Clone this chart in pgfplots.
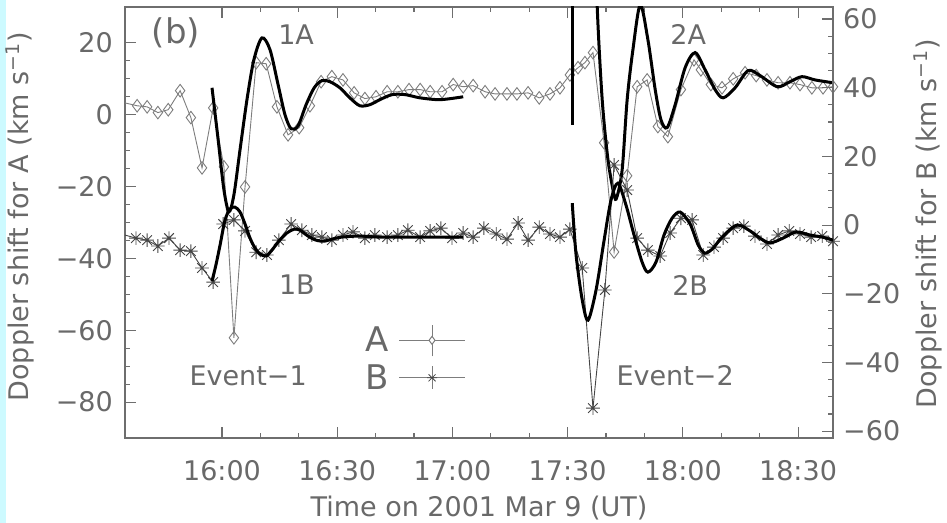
\documentclass[border=0pt]{standalone}
\usepackage{fontspec}
\setmainfont{DejaVu Sans}
\usepackage{pgfplots}
\pgfplotsset{compat=1.18}

\definecolor{txt}{RGB}{105,105,105}
\definecolor{axc}{RGB}{110,110,110}
\definecolor{dA}{RGB}{125,125,125}
\definecolor{dB}{RGB}{70,70,70}
\definecolor{strip}{RGB}{205,250,255}

\newcommand{\fs}[1]{\fontsize{#1bp}{#1bp}\selectfont}

\pgfdeclareplotmark{ast8}{%
 \pgfpathmoveto{\pgfqpoint{-\pgfplotmarksize}{0pt}}\pgfpathlineto{\pgfqpoint{\pgfplotmarksize}{0pt}}%
 \pgfpathmoveto{\pgfqpoint{0pt}{-\pgfplotmarksize}}\pgfpathlineto{\pgfqpoint{0pt}{\pgfplotmarksize}}%
 \pgfpathmoveto{\pgfqpoint{-.707\pgfplotmarksize}{-.707\pgfplotmarksize}}\pgfpathlineto{\pgfqpoint{.707\pgfplotmarksize}{.707\pgfplotmarksize}}%
 \pgfpathmoveto{\pgfqpoint{-.707\pgfplotmarksize}{.707\pgfplotmarksize}}\pgfpathlineto{\pgfqpoint{.707\pgfplotmarksize}{-.707\pgfplotmarksize}}%
 \pgfusepathqstroke}

% time in minutes after 15:00 UT
\pgfplotstableread{
t A
34.7 3.3
37.9 2.5
40.5 2.2
43.3 0.6
46.0 1.4
49.1 6.7
51.9 -0.8
54.8 -14.8
57.7 1.9
60.5 -14.5
63.1 -62.1
66.0 -20.1
68.9 14.5
71.5 14.2
74.3 2.2
77.2 -5.6
80.1 -3.6
82.9 2.5
85.8 9.2
88.6 10.6
91.5 9.7
94.4 6.1
97.2 4.5
100.1 5.0
103.0 6.4
105.8 6.4
108.7 7.0
111.6 7.0
114.2 6.4
117.3 6.4
120.2 8.4
122.8 7.8
125.4 8.1
128.5 6.4
131.1 5.8
134.2 5.8
136.8 5.8
139.7 6.1
142.6 4.7
145.4 5.8
148.0 7.5
150.6 11.1
152.7 13.1
154.5 14.5
156.6 17.3
159.5 -7.8
162.1 -38.2
165.5 -17.0
168.1 7.8
170.7 9.7
173.5 -3.3
176.1 -6.1
179.5 7.0
182.9 15.3
184.7 12.5
187.3 8.4
190.2 7.5
193.1 10.0
196.2 11.7
199.1 10.9
201.9 9.7
204.8 8.9
207.9 8.9
210.5 8.4
213.6 7.5
216.5 7.5
219.1 7.8
}\dataA

\pgfplotstableread{
t B
34.7 -2.9
37.6 -3.8
40.5 -4.4
43.3 -6.1
46.2 -3.8
49.1 -7.3
51.9 -7.6
54.8 -12.5
57.7 -16.6
60.3 0.3
63.1 1.5
66.0 -1.7
68.9 -7.9
71.7 -8.7
74.8 -4.4
78.0 0.3
80.8 -1.5
83.4 -2.9
86.0 -3.5
88.6 -4.4
91.5 -2.9
94.1 -2.0
97.2 -3.8
99.8 -2.9
103.0 -3.5
105.8 -2.9
108.4 -1.5
111.6 -3.5
114.2 -1.7
117.0 -0.9
119.9 -3.8
122.8 -2.3
125.4 -3.5
128.2 -0.9
131.4 -2.6
134.2 -4.1
137.1 0.6
139.7 -4.4
142.6 -0.6
145.4 -2.6
148.0 -3.5
150.6 -1.2
153.8 -12.5
156.6 -53.3
159.7 -18.9
162.1 17.5
165.5 10.2
168.1 -3.8
170.9 -7.3
174.1 -9.0
176.7 -2.3
179.5 2.0
182.4 1.5
185.3 -8.7
188.1 -6.4
190.5 -3.8
193.1 -0.9
195.9 -0.3
198.8 -3.2
201.9 -5.5
204.8 -2.9
207.7 -1.7
210.5 -2.6
213.4 -3.5
216.3 -3.2
219.1 -4.7
}\dataB

\pgfplotstableread{
t A
57.4 7.5
59.0 -7.0
60.5 -20.9
61.8 -27.0
63.1 -22.3
64.7 -9.7
66.5 4.2
68.3 15.3
70.4 21.4
72.5 18.1
74.6 8.4
76.4 0.0
78.0 -3.9
79.8 -3.1
81.9 2.8
84.0 7.5
86.0 9.5
88.1 9.2
90.7 7.5
93.3 4.7
95.9 2.5
98.5 2.8
101.1 4.2
104.3 5.6
107.7 5.6
111.6 4.7
116.8 4.2
122.8 5.0
}\fitOneA

\pgfplotstableread{
t B
57.4 -16.3
58.4 -11.7
59.5 -5.8
60.8 1.5
62.1 4.7
63.4 5.2
64.7 3.8
66.0 0.3
67.3 -3.8
68.6 -6.7
69.9 -8.4
71.5 -9.0
73.0 -7.3
74.8 -4.7
76.9 -2.3
78.8 -1.2
80.3 -1.5
82.4 -3.2
84.5 -4.4
86.6 -4.7
88.6 -4.1
91.2 -3.5
95.9 -3.2
101.1 -3.5
111.6 -3.5
122.8 -3.5
}\fitOneB

\pgfplotstableread{
t A
156.5 70
157.7 30.1
159.0 4.2
160.5 -12.5
162.1 -22.3
162.8 -23.0
164.2 -15.3
165.5 4.2
167.0 18.1
168.9 30.6
170.9 20.9
172.8 7.0
174.3 -1.4
175.9 -3.6
178.0 2.8
180.6 13.1
183.2 17.3
185.8 12.5
188.4 7.0
190.5 4.7
193.6 7.5
197.0 12.3
200.1 10.9
204.6 7.8
207.9 9.2
211.0 10.6
214.4 9.7
219.1 8.9
}\fitTwoA

\pgfplotstableread{
t B
151.2 6.4
152.2 -8.7
153.8 -21.8
155.3 -27.7
157.4 -18.9
159.5 -4.4
161.3 7.3
163.1 12.2
165.2 5.8
167.3 -2.9
169.4 -10.8
170.9 -13.7
173.0 -10.8
175.1 -2.9
177.2 2.0
179.3 3.8
181.9 0.3
184.0 -5.8
185.8 -8.2
187.9 -6.7
190.2 -3.5
194.1 0.0
197.5 -1.7
200.1 -3.8
202.7 -5.2
206.1 -3.8
209.5 -2.0
213.1 -2.9
216.3 -3.5
219.1 -4.4
}\fitTwoB

\pgfplotsset{
 mystyle/.style={
  scale only axis, width=708bp, height=431bp,
  xmin=34.74, xmax=219.1,
  axis line style={axc, line width=1.3bp},
  every tick/.style={axc, line width=1.1bp},
  tick align=inside,
  major tick length=11bp, minor tick length=5.5bp,
  tick label style={font=\fs{27}, text=txt, inner sep=0pt},
  label style={font=\fs{27}, text=txt},
  clip mode=individual,
 },
 dataAstyle/.style={dA, line width=0.9bp, mark=diamond, mark size=6.3bp,
   mark options={fill=white, solid, line width=0.9bp, dA}},
 dataBstyle/.style={dB, line width=0.9bp, mark=ast8, mark size=6.8bp,
   mark options={solid, line width=0.9bp, dB}},
 fitstyle/.style={black, line width=3bp, smooth, no markers},
}

\begin{document}
\begin{tikzpicture}
\useasboundingbox (-125bp,-85bp) rectangle (822bp,438bp);
\fill[strip] (-125bp,-85bp) rectangle (-119bp,438bp);

\begin{axis}[mystyle,
  ymin=-90, ymax=30,
  ytick={-80,-60,-40,-20,0,20},
  yticklabels={−80,−60,−40,−20,0,20},
  minor y tick num=3,
  ytick pos=left,
  xtick={60,90,120,150,180,210},
  xticklabels={16:00,16:30,17:00,17:30,18:00,18:30},
  minor x tick num=2,
  yticklabel style={anchor=east, xshift=-12bp},
  xticklabel style={anchor=north, yshift=-22bp},
  xlabel={Time on 2001 Mar 9 (UT)},
  xlabel style={at={([yshift=-70bp]axis description cs:0.5,0)}, anchor=center},
  ylabel={Doppler shift for A (km s\textsuperscript{−1})},
  ylabel style={at={([xshift=-105bp]axis description cs:0,0.513)}, anchor=center},
  legend plot pos=right,
  legend style={draw=none, fill=none, at={(axis description cs:0.339,0.299)},
    anchor=north west, inner sep=0pt, row sep=-10bp, column sep=10bp,
    nodes={inner sep=0pt, text=txt, font=\fs{34}}},
]
\addplot[dataAstyle, forget plot] table[x=t, y=A] {\dataA};
\addplot[fitstyle, forget plot] table[x=t, y=A] {\fitOneA};
\addplot[black, line width=3bp, forget plot] coordinates {(151.3,-2.8) (151.3,45)};
\addplot[fitstyle, forget plot] table[x=t, y=A] {\fitTwoA};

\addlegendimage{legend image code/.code={
  \path[draw=none, fill=none] (0bp,-15bp) rectangle (66bp,31bp);
  \draw[dA, line width=1bp] (0bp,0bp) -- (66bp,0bp);
  \draw[dA, line width=1bp] (33bp,-16bp) -- (33bp,15bp);
  \draw[dA, line width=1bp, fill=white] (33bp,4bp) -- (36bp,0bp) -- (33bp,-4bp) -- (30bp,0bp) -- cycle;
}}
\addlegendentry{A}
\addlegendimage{legend image code/.code={
  \path[draw=none, fill=none] (0bp,-15bp) rectangle (66bp,31bp);
  \draw[dA, line width=1bp] (0bp,0bp) -- (66bp,0bp);
  \draw[dA, line width=1bp] (33bp,-11bp) -- (33bp,12bp);
  \draw[dB, line width=0.8bp] (28bp,0bp) -- (38bp,0bp) (29.5bp,-3.5bp) -- (36.5bp,3.5bp) (29.5bp,3.5bp) -- (36.5bp,-3.5bp);
}}
\addlegendentry{B}

\node[font=\fs{34}, text=txt] at (axis cs:48.0,22.8) {(b)};
\node[font=\fs{27}, text=txt] at (axis cs:79.3,22.3) {1A};
\node[font=\fs{27}, text=txt] at (axis cs:181.4,22.3) {2A};
\node[font=\fs{27}, text=txt] at (axis cs:79.5,-47.4) {1B};
\node[font=\fs{27}, text=txt] at (axis cs:181.9,-47.4) {2B};
\node[font=\fs{27}, text=txt] at (axis cs:66.8,-72.7) {Event−1};
\node[font=\fs{27}, text=txt] at (axis cs:178.0,-72.7) {Event−2};
\end{axis}

\begin{axis}[mystyle,
  ymin=-62, ymax=63.5,
  axis y line*=right, hide x axis,
  ytick={-60,-40,-20,0,20,40,60},
  yticklabels={−60,−40,−20,0,20,40,60},
  minor y tick num=3,
  yticklabel style={anchor=west, xshift=10bp},
  ylabel={Doppler shift for B (km s\textsuperscript{−1})},
  ylabel style={at={([xshift=95bp]axis description cs:1,0.497)}, anchor=center},
]
\addplot[dataBstyle] table[x=t, y=B] {\dataB};
\addplot[fitstyle] table[x=t, y=B] {\fitOneB};
\addplot[fitstyle] table[x=t, y=B] {\fitTwoB};
\end{axis}
\end{tikzpicture}
\end{document}
